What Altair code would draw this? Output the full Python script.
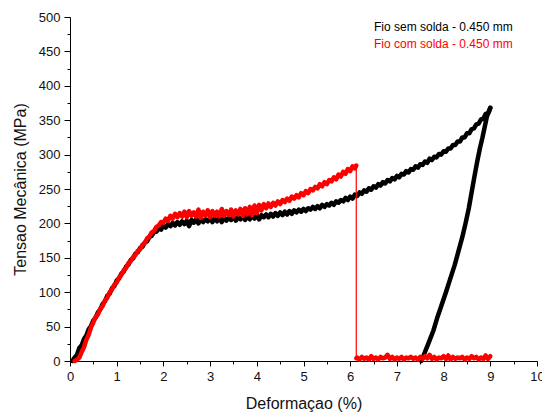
import altair as alt
import pandas as pd

# ---- data ----
# black (Fio sem solda) loading branch, sampled every 0.05 % from 0.05 to 9.00
black_load_x0 = 0.05
black_load_step = 0.05
black_load_y = [
    0, 5, 9, 19, 23, 32, 37, 46, 51, 59, 63, 71, 75, 83, 87, 95, 98, 106, 109, 117,
    120, 127, 130, 137, 140, 147, 149, 156, 158, 164, 166, 172, 174, 180, 182, 187, 188, 193, 191, 197,
    194, 199, 196, 201, 197, 202, 198, 203, 199, 204, 196, 205, 201, 206, 200, 207, 202, 206, 203, 208,
    202, 207, 203, 208, 202, 209, 204, 208, 205, 210, 204, 209, 206, 210, 205, 211, 206, 211, 207, 212,
    206, 212, 209, 213, 209, 214, 210, 215, 211, 216, 212, 217, 213, 218, 214, 219, 216, 220, 217, 221,
    218, 222, 220, 224, 221, 225, 222, 227, 224, 228, 226, 230, 227, 232, 230, 234, 232, 237, 234, 239,
    236, 242, 240, 245, 243, 248, 246, 251, 249, 254, 252, 257, 255, 260, 258, 263, 261, 266, 264, 269,
    267, 272, 271, 276, 274, 279, 278, 283, 281, 286, 285, 290, 288, 294, 292, 297, 296, 301, 300, 305,
    304, 309, 309, 314, 314, 319, 319, 325, 325, 331, 331, 337, 338, 344, 345, 351, 352, 359, 360, 368,
]
# black unloading branch
black_unload_x = [9.00, 8.97, 8.93, 8.88, 8.83, 8.78, 8.72, 8.66, 8.60, 8.54, 8.47, 8.40,
                  8.32, 8.24, 8.14, 8.05, 7.95, 7.86, 7.78, 7.70, 7.63, 7.57, 7.52]
black_unload_y = [368, 362, 356, 340, 324, 310, 290, 268, 245, 222, 200, 180,
                  160, 140, 119, 100, 80, 62, 44, 30, 18, 8, 0]

# red (Fio com solda) loading branch, sampled every 0.05 % from 0.10 to 6.10, then rupture point
red_load_x0 = 0.10
red_load_step = 0.05
red_load_y = [
    0, 2, 5, 13, 20, 31, 38, 49, 56, 64, 68, 76, 80, 88, 92, 100, 104, 111, 114, 121,
    125, 132, 135, 142, 145, 151, 154, 160, 162, 169, 171, 178, 181, 187, 189, 195, 197, 202, 201, 207,
    204, 211, 207, 214, 209, 215, 210, 217, 209, 218, 211, 216, 210, 220, 208, 217, 212, 219, 209, 218,
    211, 217, 210, 221, 211, 218, 212, 220, 210, 219, 213, 221, 211, 222, 213, 224, 212, 226, 215, 227,
    219, 228, 222, 229, 224, 230, 226, 232, 228, 234, 231, 236, 233, 239, 236, 241, 238, 244, 241, 247,
    244, 250, 248, 253, 251, 257, 254, 260, 257, 263, 261, 267, 264, 271, 268, 275, 272, 279, 276, 283,
    280,
]
red_break_x = 6.13
red_break_top = 284
red_break_bottom = 4
# red after rupture, sampled every 0.05 % from 6.15 to 9.00
red_flat_x0 = 6.15
red_flat_step = 0.05
red_flat_y = [5, 2, 6, 3, 5, 2, 7, 3, 5, 2, 6, 4, 5, 9, 3, 6, 2, 5, 3, 6,
              2, 5, 4, 6, 3, 5, 2, 6, 3, 7, 4, 9, 3, 6, 2, 5, 4, 7, 3, 8,
              2, 6, 3, 5, 4, 6, 2, 5, 3, 7, 4, 6, 2, 5, 3, 8, 3, 7]

legend_labels = ["Fio sem solda - 0.450 mm", "Fio com solda - 0.450 mm"]
legend_colors = ["#000000", "#ff0000"]

x_ticks = [i * 0.5 for i in range(21)]
y_ticks = [i * 25 for i in range(21)]

# ---- tables ----
rows = []
for i, v in enumerate(black_load_y):
    rows.append({"x": round(black_load_x0 + i * black_load_step, 3), "y": v, "seg": "load", "o": i})
n = len(rows)
for i, (xv, yv) in enumerate(zip(black_unload_x, black_unload_y)):
    rows.append({"x": xv, "y": yv, "seg": "unload", "o": n + i})
black_df = pd.DataFrame(rows)

rows = []
for i, v in enumerate(red_load_y):
    rows.append({"x": round(red_load_x0 + i * red_load_step, 3), "y": v, "seg": "load", "o": i})
rows.append({"x": red_break_x, "y": red_break_top, "seg": "load", "o": len(rows)})
rows.append({"x": red_break_x, "y": red_break_bottom, "seg": "flat", "o": len(rows)})
for i, v in enumerate(red_flat_y):
    rows.append({"x": round(red_flat_x0 + i * red_flat_step, 3), "y": v, "seg": "flat", "o": len(rows)})
red_df = pd.DataFrame(rows)

drop_df = pd.DataFrame({"x": [red_break_x, red_break_x], "y": [red_break_top, red_break_bottom], "o": [0, 1]})

FONT = "Liberation Sans"

xscale = alt.Scale(domain=[0, 10], nice=False, zero=False)
yscale = alt.Scale(domain=[0, 500], nice=False, zero=False)

xaxis = alt.Axis(
    values=x_ticks,
    labelExpr="datum.value % 1 === 0 ? '' + datum.value : ''",
    tickSize={"condition": {"test": "datum.value % 1 === 0", "value": 5}, "value": 3},
    title="Deformaçao (%)",
    grid=False,
    labelOverlap=False,
    labelFlush=False,
    labelPadding=4,
    titlePadding=12,
)
yaxis = alt.Axis(
    values=y_ticks,
    labelExpr="datum.value % 50 === 0 ? '' + datum.value : ''",
    tickSize={"condition": {"test": "datum.value % 50 === 0", "value": 6}, "value": 3},
    title="Tensao Mecânica (MPa)",
    grid=False,
    labelOverlap=False,
    labelFlush=False,
    labelPadding=4,
    titlePadding=10,
)

X = alt.X("x:Q", scale=xscale, axis=xaxis)
Y = alt.Y("y:Q", scale=yscale, axis=yaxis)

black = alt.Chart(black_df).mark_line(
    color="#000000", strokeWidth=4.5, strokeJoin="round", strokeCap="round"
).encode(x=X, y=Y, detail="seg:N", order="o:Q")

red = alt.Chart(red_df).mark_line(
    color="#ff0000", strokeWidth=4.5, strokeJoin="round", strokeCap="round"
).encode(x=X, y=Y, detail="seg:N", order="o:Q")

drop = alt.Chart(drop_df).mark_line(color="#ff0000", strokeWidth=1.2).encode(
    x=X, y=Y, order="o:Q"
)

legend_df = pd.DataFrame({"label": legend_labels, "color": legend_colors})
legend_layers = []
for k, lab in enumerate(legend_labels):
    legend_layers.append(
        alt.Chart(legend_df[legend_df["label"] == lab]).mark_text(
            align="left", baseline="middle", font=FONT, fontSize=12, color=legend_colors[k]
        ).encode(
            x=alt.value(304),
            y=alt.value(10 + 17 * k),
            text="label:N",
        )
    )

chart = alt.layer(black, red, drop, *legend_layers).properties(
    width=467,
    height=344,
    autosize=alt.AutoSizeParams(type="none"),
    padding={"left": 70, "top": 17, "right": 5, "bottom": 51},
    background="white",
).configure_view(stroke=None).configure_axis(
    domainColor="#000000",
    domainWidth=1,
    tickColor="#000000",
    tickWidth=1,
    labelOverlap=False,
    labelFont=FONT,
    labelFontSize=13,
    labelColor="#111111",
    titleFont=FONT,
    titleFontSize=16,
    titleFontWeight="normal",
    titleColor="#111111",
)

chart.save("out.html", embed_options={"renderer": "svg", "actions": False})
